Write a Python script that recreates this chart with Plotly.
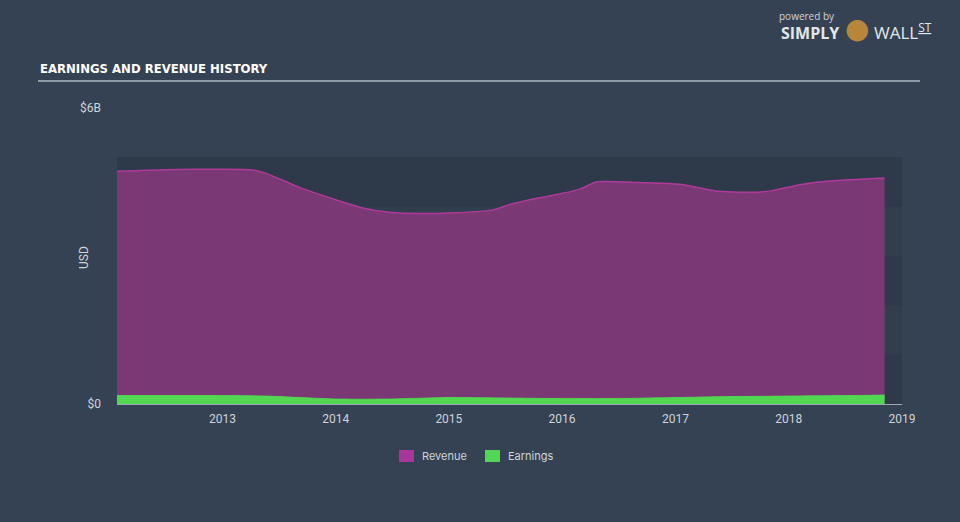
import plotly.graph_objects as go

# ---- data (USD billions) ----
rev_dates = ["2012-01-27", "2012-07-01", "2013-01-01", "2013-04-01", "2013-05-20", "2013-09-10",
             "2014-01-01", "2014-03-25", "2014-07-01", "2014-10-01", "2015-01-01", "2015-05-20",
             "2015-07-20", "2015-10-20", "2016-01-25", "2016-03-01", "2016-04-20", "2016-09-01",
             "2017-01-20", "2017-05-10", "2017-09-01", "2017-11-05", "2018-02-10", "2018-05-15",
             "2018-11-06"]
revenue = [4.72, 4.75, 4.76, 4.75, 4.68, 4.38,
           4.14, 3.98, 3.88, 3.86, 3.87, 3.93,
           4.05, 4.18, 4.30, 4.36, 4.50, 4.49,
           4.45, 4.32, 4.29, 4.32, 4.45, 4.52,
           4.58]

earn_dates = ["2012-01-27", "2013-01-01", "2013-05-20", "2014-01-01", "2014-07-01", "2015-01-01",
              "2015-07-01", "2016-01-01", "2016-07-01", "2017-01-01", "2017-07-01", "2018-01-01",
              "2018-07-01", "2018-11-06"]
earnings = [0.17, 0.17, 0.16, 0.10, 0.10, 0.13,
            0.12, 0.11, 0.11, 0.13, 0.15, 0.16,
            0.17, 0.18]

y_ticks = [0, 6]
y_tick_labels = ["$0", "$6B"]
x_ticks = ["2013-01-01", "2014-01-01", "2015-01-01", "2016-01-01", "2017-01-01", "2018-01-01", "2019-01-01"]
x_tick_labels = ["2013", "2014", "2015", "2016", "2017", "2018", "2019"]
series_names = ["Revenue", "Earnings"]
series_colors = ["#a8369b", "#52d752"]

BG = "#344253"
BAND = "#2e3a49"
TXT = "#d0d4d9"

L, R, T, B = 117, 58, 108, 118
PW, PH = 960 - L - R, 522 - T - B


def px(xp):
    return (xp - L) / PW


def py(yp):
    return (522 - B - yp) / PH


fig = go.Figure()

fig.add_trace(go.Scatter(
    x=rev_dates, y=revenue, name=series_names[0], mode="lines", showlegend=False,
    line=dict(color="#b03a9c", width=1.5, shape="spline", smoothing=0.6),
    fill="tozeroy", fillcolor="#7a3874",
))
fig.add_trace(go.Scatter(
    x=earn_dates, y=earnings, name=series_names[1], mode="lines", showlegend=False,
    line=dict(color="#52d752", width=1, shape="spline", smoothing=0.6),
    fill="tozeroy", fillcolor="#52d752",
))

shapes = []
# darker background bands
shapes.append(dict(type="rect", xref="x", yref="y", x0="2012-01-27", x1="2019-01-01",
                   y0=0, y1=5, fillcolor="#313e4e", line_width=0, layer="below"))
for lo in [0, 2, 4]:
    shapes.append(dict(type="rect", xref="x", yref="y", x0="2012-01-27", x1="2019-01-01",
                       y0=lo, y1=lo + 1, fillcolor=BAND, line_width=0, layer="below"))
# title underline
shapes.append(dict(type="line", xref="paper", yref="paper", x0=px(38), x1=px(920),
                   y0=py(81), y1=py(81), line=dict(color="#8e99a6", width=2)))
# tick marks
for t in x_ticks:
    shapes.append(dict(type="line", xref="x", yref="y", x0=t, x1=t, y0=0, y1=-0.15,
                       line=dict(color="#a0aab5", width=1)))

annotations = [
    dict(text="<b>EARNINGS AND REVENUE HISTORY</b>", xref="paper", yref="paper",
         x=px(38), y=py(68), xanchor="left", yanchor="middle", showarrow=False,
         font=dict(family="DejaVu Sans Condensed, Liberation Sans Narrow, sans-serif", size=13, color="#ffffff")),
    dict(text="USD", xref="paper", yref="paper", x=px(84), y=py(258),
         xanchor="center", yanchor="middle", showarrow=False, textangle=-90,
         font=dict(family="Roboto, sans-serif", size=12, color=TXT)),
    dict(text="powered by", xref="paper", yref="paper", x=px(777), y=py(16), xanchor="left",
         yanchor="middle", showarrow=False,
         font=dict(family="Open Sans, sans-serif", size=10, color=TXT)),
    dict(text="<b>SIMPLY</b>", xref="paper", yref="paper", x=px(841), y=py(33), xanchor="right",
         yanchor="middle", showarrow=False,
         font=dict(family="Open Sans, sans-serif", size=16, color="#e4e7ea")),
    dict(text="WALL<sup><u>ST</u></sup>", xref="paper", yref="paper", x=px(872), y=py(32), xanchor="left",
         yanchor="middle", showarrow=False,
         font=dict(family="Open Sans, sans-serif", size=17, color="#e4e7ea")),
    dict(text="●", xref="paper", yref="paper", x=px(857), y=py(28), xanchor="center",
         yanchor="middle", showarrow=False,
         font=dict(family="DejaVu Sans, sans-serif", size=28, color="#b8863b")),
]

# legend (swatches + labels)
legend_x = [399, 485]
for nm, col, lx in zip(series_names, series_colors, legend_x):
    shapes.append(dict(type="rect", xref="paper", yref="paper", x0=px(lx), x1=px(lx + 15),
                       y0=py(462), y1=py(450), fillcolor=col, line_width=0))
    annotations.append(dict(text=nm, xref="paper", yref="paper", x=px(lx + 21), y=py(456),
                            xanchor="left", yanchor="middle", showarrow=False,
                            font=dict(family="Inter, Roboto, sans-serif", size=11, color=TXT)))

fig.update_layout(
    width=960, height=522,
    paper_bgcolor=BG, plot_bgcolor=BG,
    margin=dict(l=L, r=R, t=T, b=B),
    showlegend=False,
    shapes=shapes,
    annotations=annotations,
    xaxis=dict(type="date", range=["2012-01-27", "2019-01-01"], tickvals=x_ticks,
               ticktext=x_tick_labels, showgrid=False, zeroline=False,
               showline=True, linecolor="#a0aab5", linewidth=1,
               tickfont=dict(family="Roboto, sans-serif", size=12, color=TXT),
               ticks="", ticklabelstandoff=4, fixedrange=True),
    yaxis=dict(range=[0, 6], tickvals=y_ticks, ticktext=y_tick_labels, showgrid=False,
               zeroline=False, showline=False,
               tickfont=dict(family="Roboto, sans-serif", size=12, color=TXT),
               ticks="", ticklabelstandoff=15, fixedrange=True),
)

fig.write_html("out.html")
